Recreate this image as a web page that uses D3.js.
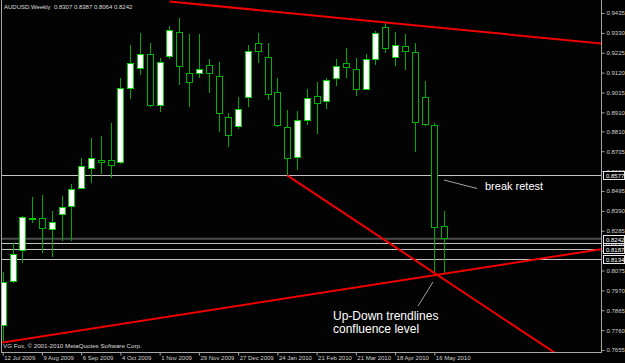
<!DOCTYPE html>
<html>
<head>
<meta charset="utf-8">
<script src="https://cdn.jsdelivr.net/npm/d3@7"></script>
<style>
html, body { margin: 0; padding: 0; background: #000; }
svg { display: block; }
text { font-family: "Liberation Sans", Arial, sans-serif; }
</style>
</head>
<body>
<div id="chart"></div>
<script>
// weekly AUDUSD candles, 12 Jul 2009 .. 23 May 2010
const opens  = [0.7782,0.8019,0.8178,0.8346,0.8350,0.8292,0.8370,0.8414,0.8507,0.8613,0.8656,0.8657,0.8646,0.9035,0.9143,0.9217,0.8945,0.9204,0.9333,0.9117,0.9114,0.9157,0.9101,0.8884,0.8834,0.8990,0.9275,0.9201,0.9016,0.8831,0.8673,0.8865,0.8995,0.8969,0.9090,0.9169,0.9134,0.9032,0.9188,0.9360,0.9201,0.9257,0.9227,0.8990,0.8842,0.8307];
const highs  = [0.8067,0.8220,0.8363,0.8463,0.8474,0.8389,0.8468,0.8532,0.8671,0.8773,0.8785,0.8856,0.9090,0.9266,0.9328,0.9275,0.9196,0.9366,0.9407,0.9324,0.9324,0.9192,0.9175,0.8905,0.8990,0.9266,0.9328,0.9275,0.9090,0.8923,0.8920,0.9034,0.9071,0.9093,0.9192,0.9252,0.9196,0.9217,0.9342,0.9381,0.9333,0.9323,0.9275,0.9076,0.8856,0.8387];
const lows   = [0.7697,0.8009,0.8114,0.8326,0.8169,0.8148,0.8231,0.8231,0.8504,0.8535,0.8585,0.8562,0.8637,0.8979,0.9108,0.8937,0.8914,0.9190,0.9055,0.8940,0.9090,0.9011,0.8805,0.8729,0.8821,0.8937,0.9169,0.8975,0.8834,0.8577,0.8606,0.8842,0.8796,0.8930,0.9051,0.9093,0.8997,0.9028,0.9160,0.9222,0.9157,0.9134,0.8702,0.8838,0.8060,0.8064];
const closes = [0.8009,0.8157,0.8357,0.8348,0.8296,0.8327,0.8409,0.8504,0.8623,0.8669,0.8645,0.8628,0.9034,0.9169,0.9217,0.8945,0.9175,0.9342,0.9151,0.9067,0.9139,0.9117,0.8905,0.8789,0.8926,0.9233,0.9231,0.9006,0.8840,0.8667,0.8865,0.8982,0.8958,0.9076,0.9153,0.9148,0.9032,0.9188,0.9328,0.9250,0.9262,0.9233,0.8858,0.8845,0.8303,0.8242];

const dateTickIdx = [0,4,8,12,16,20,24,28,32,36,40,44];
const dateTickLabels = ['12 Jul 2009','9 Aug 2009','6 Sep 2009','4 Oct 2009','1 Nov 2009','29 Nov 2009','27 Dec 2009','24 Jan 2010','21 Feb 2010','21 Mar 2010','18 Apr 2010','16 May 2010'];
const priceTicks = [0.9435,0.9330,0.9225,0.9120,0.9015,0.8910,0.8810,0.8705,0.8600,0.8495,0.8390,0.8285,0.8180,0.8075,0.7970,0.7865,0.7760,0.7655];

const levels = [0.8577, 0.8220, 0.8187, 0.8134];
const bidPrice = 0.8242;

// trendlines: [barIndex, price] anchors
const topLine  = [[17, 0.9496], [61, 0.9274]];
const downLine = [[29, 0.8577], [44, 0.8062]];
const upLine   = [[-0.275, 0.7692], [44, 0.8050]];

const title = 'AUDUSD,Weekly  0.8307 0.8387 0.8064 0.8242';
const footer = 'VG Fox, \u00a9 2001-2010 MetaQuotes Software Corp.';

const W = 625, H = 363;
const plotL = 1, plotR = 601, plotT = 0, plotB = 352;

const svg = d3.select('#chart').append('svg')
  .attr('width', W).attr('height', H)
  .style('background', '#030303');

const x = d3.scaleLinear().domain([0, 45]).range([2.7, 2.7 + 45 * 9.81]);
const y = d3.scaleLinear().domain([0.7655, 0.9435]).range([350, 13]);

svg.append('clipPath').attr('id', 'plot')
  .append('rect').attr('x', plotL).attr('y', plotT)
  .attr('width', plotR - plotL).attr('height', plotB - plotT);

const plot = svg.append('g').attr('clip-path', 'url(#plot)');

// frame
const frame = svg.append('g').attr('stroke', '#a8a8a8').attr('stroke-width', 1);
frame.append('line').attr('x1', plotL + 0.5).attr('x2', plotL + 0.5).attr('y1', plotT).attr('y2', plotB + 0.5);
frame.append('line').attr('x1', plotR + 0.5).attr('x2', plotR + 0.5).attr('y1', plotT).attr('y2', plotB + 0.5);
frame.append('line').attr('x1', plotL).attr('x2', plotR + 1).attr('y1', plotB + 0.5).attr('y2', plotB + 0.5);

// horizontal levels
plot.append('line')
  .attr('x1', plotL).attr('x2', plotR)
  .attr('y1', y(bidPrice)).attr('y2', y(bidPrice))
  .attr('stroke', '#4c4c4c').attr('stroke-width', 2);

plot.selectAll('line.level').data(levels).join('line')
  .attr('class', 'level')
  .attr('x1', plotL).attr('x2', plotR)
  .attr('y1', d => Math.round(y(d)) + 0.5).attr('y2', d => Math.round(y(d)) + 0.5)
  .attr('stroke', '#c4c4c4').attr('stroke-width', 1);

// candles
const bars = d3.range(opens.length).map(i => ({
  i, o: opens[i], h: highs[i], l: lows[i], c: closes[i]
}));

const cg = plot.append('g').attr('shape-rendering', 'crispEdges');
cg.selectAll('line.wick').data(bars).join('line')
  .attr('class', 'wick')
  .attr('x1', d => Math.round(x(d.i)) + 0.5).attr('x2', d => Math.round(x(d.i)) + 0.5)
  .attr('y1', d => y(d.h)).attr('y2', d => y(d.l))
  .attr('stroke', '#00a800').attr('stroke-width', 1);

cg.selectAll('rect.body').data(bars).join('rect')
  .attr('class', 'body')
  .attr('x', d => Math.round(x(d.i)) - 2.5)
  .attr('width', 6)
  .attr('y', d => y(Math.max(d.o, d.c)))
  .attr('height', d => Math.max(1, Math.abs(y(d.o) - y(d.c))))
  .attr('fill', d => d.c >= d.o ? '#ffffff' : '#030303')
  .attr('stroke', d => d.c >= d.o ? '#00d000' : '#00b400')
  .attr('stroke-width', 1);

// trendlines, extended to the right edge
const extend = (pts, to) => {
  const [[i0, p0], [i1, p1]] = pts;
  const k = (p1 - p0) / (i1 - i0);
  return [[i0, p0], [to, p0 + k * (to - i0)]];
};
const trendPath = d3.line().x(d => x(d[0])).y(d => y(d[1]));
[topLine, downLine, upLine].forEach(t => {
  plot.append('path')
    .attr('d', trendPath(extend(t, 64)))
    .attr('fill', 'none')
    .attr('stroke', '#f00000')
    .attr('stroke-width', 2);
});

// right price axis
const yAxis = svg.append('g')
  .attr('transform', `translate(${plotR + 0.5},0)`)
  .call(d3.axisRight(y).tickValues(priceTicks).tickSize(3).tickPadding(2).tickFormat(d3.format('.4f')));
yAxis.select('.domain').remove();
yAxis.selectAll('line').attr('stroke', '#a8a8a8');
yAxis.selectAll('text').attr('fill', '#cfcfcf').style('font-size', '6px');

// bottom date axis
const xAxis = svg.append('g')
  .attr('transform', `translate(0,${plotB + 0.5})`)
  .call(d3.axisBottom(x).tickValues(dateTickIdx).tickSize(3)
    .tickFormat((d, i) => dateTickLabels[i]));
xAxis.select('.domain').remove();
xAxis.selectAll('line').attr('stroke', '#a8a8a8');
xAxis.selectAll('text')
  .attr('fill', '#cfcfcf').style('font-size', '6px')
  .attr('text-anchor', 'start').attr('x', 1).attr('y', 3).attr('dy', '0.71em');

// price labels of horizontal lines
const tagData = [levels[1], bidPrice, levels[2], levels[3], levels[0]];
const tags = svg.append('g').selectAll('g').data(tagData).join('g')
  .attr('transform', d => `translate(${plotR + 2},${Math.round(y(d))})`);
tags.append('rect')
  .attr('x', 0.5).attr('y', -3.5).attr('width', 21).attr('height', 8)
  .attr('fill', '#030303').attr('stroke', '#e8e8e8').attr('stroke-width', 1);
tags.append('text')
  .attr('x', 3).attr('y', 0.5).attr('dy', '0.35em')
  .attr('fill', '#ffffff').style('font-size', '6px')
  .text(d => d3.format('.4f')(d));

// title + footer
svg.append('text').attr('x', 4).attr('y', 8.5)
  .attr('fill', '#dcdcdc').style('font-size', '6px').style('white-space', 'pre')
  .text(title);
svg.append('text').attr('x', 3).attr('y', 348)
  .attr('fill', '#dcdcdc').style('font-size', '6.2px')
  .text(footer);

// annotations
const notes = svg.append('g');
notes.append('line').attr('x1', 444).attr('y1', 180).attr('x2', 477).attr('y2', 188.5)
  .attr('stroke', '#a0a0a0').attr('stroke-width', 1);
notes.append('line').attr('x1', 433).attr('y1', 282).attr('x2', 418).attr('y2', 306)
  .attr('stroke', '#a0a0a0').attr('stroke-width', 1);
notes.append('text').attr('x', 485).attr('y', 190)
  .attr('fill', '#ffffff').style('font-size', '11px').text('break retest');
notes.append('text').attr('x', 333).attr('y', 320)
  .attr('fill', '#ffffff').style('font-size', '12px').text('Up-Down trendlines');
notes.append('text').attr('x', 333).attr('y', 332.5)
  .attr('fill', '#ffffff').style('font-size', '12px').text('confluence level');
</script>
</body>
</html>
